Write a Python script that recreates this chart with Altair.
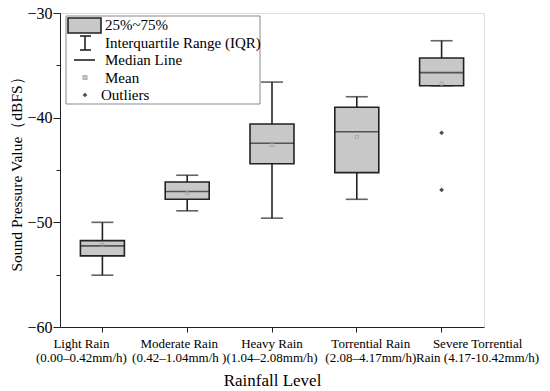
import altair as alt
import pandas as pd

# ---- data ----
line1 = ["Light Rain", "Moderate Rain", "Heavy Rain", "Torrential Rain", "Severe Torrential"]
line2 = ["(0.00–0.42mm/h)", "(0.42–1.04mm/h )", "(1.04–2.08mm/h)", "(2.08–4.17mm/h)", "Rain (4.17-10.42mm/h)"]
lower = [-55.05, -48.9, -49.6, -47.8, -36.95]
q1 = [-53.2, -47.8, -44.4, -45.25, -36.95]
median = [-52.25, -47.05, -42.45, -41.35, -35.7]
q3 = [-51.75, -46.15, -40.6, -39.0, -34.3]
upper = [-50.0, -45.5, -36.6, -38.0, -32.65]
mean = [-52.15, -47.2, -42.6, -41.85, -36.75]
outlier_cat = [4, 4]
outlier_val = [-41.45, -46.9]
# horizontal shift of each category label relative to its tick (as in the reference)
label_shift = [-21, -8, 0, 14, 36]

legend_labels = ["25%~75%", "Interquartile Range (IQR)", "Median Line", "Mean", "Outliers"]

cats = [a + "|" + b for a, b in zip(line1, line2)]
df = pd.DataFrame({"cat": cats, "lower": lower, "q1": q1, "median": median,
                   "q3": q3, "upper": upper, "mean": mean})
df_out = pd.DataFrame({"cat": [cats[i] for i in outlier_cat], "v": outlier_val})

FONT = "Liberation Serif"
INK = "#222222"
BOXFILL = "#c8c8c8"

offset_cond = {
    "condition": [{"test": "datum.value === '%s'" % c, "value": s} for c, s in zip(cats, label_shift)],
    "value": 0,
}

xenc = alt.X("cat:N", sort=cats,
             scale=alt.Scale(type="band", domain=cats, paddingInner=0, paddingOuter=0),
             axis=alt.Axis(title="Rainfall Level", labelExpr="split(datum.label, '|')",
                           labelAngle=0, labelFontSize=13, labelFont=FONT, labelColor="black",
                           labelOffset=offset_cond,
                           titleFont=FONT, titleFontSize=17, titleFontWeight="normal",
                           titleColor="black", tickSize=5, tickColor=INK, domainColor=INK,
                           labelPadding=5, titlePadding=8, labelLineHeight=14))
yscale = alt.Scale(domain=[-60, -30], nice=False, zero=False)
yaxis = alt.Axis(title="Sound Pressure Value（dBFS）", values=[-60, -55, -50, -45, -40, -35, -30],
                 labelExpr="datum.value % 10 === 0 ? datum.label : ''",
                 tickSize={"condition": {"test": "datum.value % 10 === 0", "value": 7}, "value": 4},
                 labelFont=FONT, labelFontSize=16, labelColor="black", grid=False,
                 titleFont=FONT, titleFontSize=15.5, titleFontWeight="normal", titleColor="black",
                 tickColor=INK, domainColor=INK, labelPadding=1, titlePadding=2)

base = alt.Chart(df)

whisk = base.mark_rule(color=INK, strokeWidth=1.6).encode(
    x=xenc, y=alt.Y("lower:Q", scale=yscale, axis=yaxis), y2="upper:Q")
caps_lo = base.mark_tick(color=INK, size=22, thickness=1.6).encode(x=xenc, y="lower:Q")
caps_hi = base.mark_tick(color=INK, size=22, thickness=1.6).encode(x=xenc, y="upper:Q")
box = base.mark_bar(width=44, fill=BOXFILL, stroke=INK, strokeWidth=1.6).encode(
    x=xenc, y="q1:Q", y2="q3:Q")
med = base.mark_tick(color=INK, size=44, thickness=1.6).encode(x=xenc, y="median:Q")
mn = base.mark_point(shape="square", size=10, color="#9a9a9a", strokeWidth=1, filled=False).encode(
    x=xenc, y="mean:Q")
outs = alt.Chart(df_out).mark_point(shape="diamond", size=22, filled=True, color="black").encode(
    x=xenc, y="v:Q")

# ---- legend (decoration drawn in pixels inside the plot area) ----
one = pd.DataFrame({"k": [0]})
lg = []
lg.append(alt.Chart(one).mark_rect(fill="white", stroke="#888888", strokeWidth=1).encode(
    x=alt.value(6), x2=alt.value(200), y=alt.value(3), y2=alt.value(91)))
lg.append(alt.Chart(one).mark_rect(fill=BOXFILL, stroke=INK, strokeWidth=1.6).encode(
    x=alt.value(8), x2=alt.value(41), y=alt.value(5), y2=alt.value(20)))
lg.append(alt.Chart(one).mark_rule(color=INK, strokeWidth=1.6).encode(
    x=alt.value(25), y=alt.value(23), y2=alt.value(37)))
lg.append(alt.Chart(one).mark_rule(color=INK, strokeWidth=1.6).encode(
    x=alt.value(20), x2=alt.value(31), y=alt.value(23)))
lg.append(alt.Chart(one).mark_rule(color=INK, strokeWidth=1.6).encode(
    x=alt.value(20), x2=alt.value(31), y=alt.value(37)))
lg.append(alt.Chart(one).mark_rule(color=INK, strokeWidth=1.6).encode(
    x=alt.value(14), x2=alt.value(35), y=alt.value(47)))
lg.append(alt.Chart(one).mark_point(shape="square", size=10, color="#9a9a9a", filled=False).encode(
    x=alt.value(25), y=alt.value(64.5)))
lg.append(alt.Chart(one).mark_point(shape="diamond", size=22, filled=True, color="black").encode(
    x=alt.value(25), y=alt.value(82)))
text_x = [45, 45, 45, 45, 41]
text_y = [12, 29.5, 47, 64.5, 82]
for lab, tx, ty in zip(legend_labels, text_x, text_y):
    lg.append(alt.Chart(one).mark_text(align="left", baseline="middle", font=FONT,
                                       fontSize=15, color="black").encode(
        x=alt.value(tx), y=alt.value(ty), text=alt.value(lab)))

chart = alt.layer(whisk, caps_lo, caps_hi, box, med, mn, outs, *lg).properties(
    width=424, height=314,
    autosize=alt.AutoSizeParams(type="none"),
    padding={"left": 52, "top": 5, "right": 58, "bottom": 64},
).configure_view(stroke=INK, strokeWidth=1.5).configure(background="white")

chart.save("out.html", embed_options={"renderer": "svg", "actions": False})
